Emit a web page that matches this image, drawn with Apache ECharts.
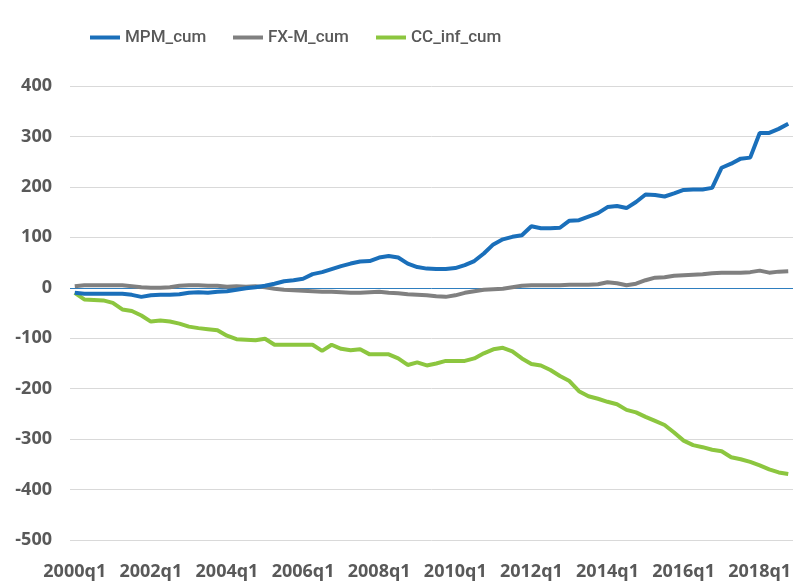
<!DOCTYPE html>
<html>
<head>
<meta charset="utf-8">
<script src="https://cdn.jsdelivr.net/npm/echarts@6/dist/echarts.min.js"></script>
<style>
html,body{margin:0;padding:0;background:#fff;}
#chart{width:795px;height:583px;}
</style>
</head>
<body>
<div id="chart"></div>
<script>
var years = [2000,2001,2002,2003,2004,2005,2006,2007,2008,2009,2010,2011,2012,2013,2014,2015,2016,2017,2018];
var quarters = ['q1','q2','q3','q4'];
var categories = [];
years.forEach(function(y){ quarters.forEach(function(q){ categories.push(y + q); }); });

var mpmCum = [-10,-12,-12,-12,-12,-12,-14,-18,-15,-14,-14,-13,-10,-9,-10,-8,-7,-4,-1,1,
  4,8,13,15,18,27,31,37,43,48,52,53,60,63,60,48,41,38,37,37,
  39,45,53,68,86,96,101,104,122,118,118,119,133,134,141,148,160,162,158,170,
  185,184,181,187,194,195,195,198,238,246,256,258,307,307,315,325];
var fxmCum = [3,5,5,5,5,5,3,1,0,0,1,4,5,5,4,4,2,3,2,3,
  1,-2,-4,-5,-6,-7,-8,-8,-9,-10,-10,-9,-8,-10,-11,-13,-14,-15,-17,-18,
  -15,-10,-7,-4,-3,-2,1,4,5,5,5,5,6,6,6,7,11,9,5,8,
  15,20,21,24,25,26,27,29,30,30,30,31,34,30,32,33];
var ccInfCum = [-10,-23,-24,-25,-30,-43,-46,-55,-67,-65,-67,-71,-77,-80,-82,-84,-95,-102,-103,-104,
  -101,-113,-113,-113,-113,-113,-125,-113,-121,-124,-122,-132,-132,-132,-140,-153,-148,-154,-150,-145,
  -145,-145,-140,-130,-122,-119,-126,-140,-151,-154,-163,-175,-185,-205,-215,-220,-226,-231,-242,-247,
  -256,-264,-272,-287,-303,-312,-316,-321,-324,-336,-340,-345,-352,-360,-366,-369];
var seriesNames = ['MPM_cum','FX-M_cum','CC_inf_cum'];
var yTicks = {min:-500, max:400, interval:100};

var chart = echarts.init(document.getElementById('chart'), null, {renderer:'canvas'});
var labelFont = '"Open Sans", "Liberation Sans", sans-serif';
var legendLefts = [85, 228, 371];
function legendFor(i){
  return {
    left:legendLefts[i], top:24,
    icon:'rect', itemWidth:30, itemHeight:4,
    textStyle:{color:'#595959', fontSize:17, fontWeight:500, fontFamily:'"Liberation Sans Narrow", "Roboto", sans-serif'},
    data:[seriesNames[i]]
  };
}
chart.setOption({
  animation:false,
  backgroundColor:'#ffffff',
  color:['#1a6fba','#808080','#8cc63f'],
  legend:[legendFor(0), legendFor(1), legendFor(2)],
  grid:{left:70, right:2, top:86, bottom:43, containLabel:false},
  xAxis:{
    type:'category', data:categories, boundaryGap:true,
    axisLine:{show:false}, axisTick:{show:false},
    axisLabel:{interval:7, margin:23, color:'#595959', fontSize:18, fontWeight:'bold', fontFamily:labelFont},
    splitLine:{show:false}
  },
  yAxis:{
    type:'value', min:yTicks.min, max:yTicks.max, interval:yTicks.interval,
    axisLine:{show:false}, axisTick:{show:false},
    axisLabel:{margin:18, color:'#595959', fontSize:18, fontWeight:'bold', fontFamily:labelFont},
    splitLine:{lineStyle:{color:'#d9d9d9', width:1}}
  },
  series:[
    {name:seriesNames[0], type:'line', data:mpmCum, symbol:'none', lineStyle:{width:4}, z:3,
     markLine:{silent:true, symbol:'none', label:{show:false}, lineStyle:{color:'#2e7ebf', width:1, type:'solid'}, data:[{yAxis:0}], z:1}},
    {name:seriesNames[1], type:'line', data:fxmCum, symbol:'none', lineStyle:{width:4}, z:2},
    {name:seriesNames[2], type:'line', data:ccInfCum, symbol:'none', lineStyle:{width:4}, z:2}
  ]
});
</script>
</body>
</html>
